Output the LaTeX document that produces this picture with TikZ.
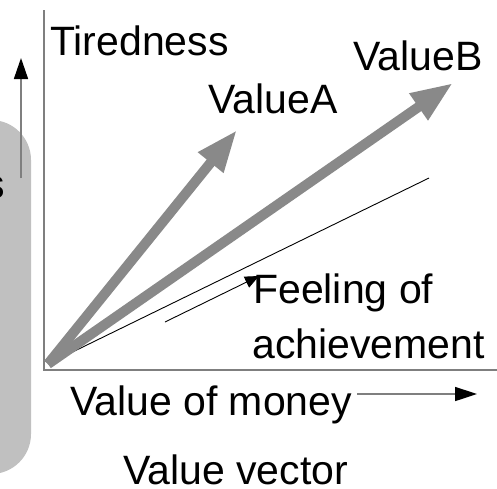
\documentclass[tikz,border=0pt]{standalone}
\usepackage{fontspec}
\setmainfont{Liberation Sans}
\usetikzlibrary{arrows.meta}
\definecolor{boxgray}{HTML}{C0C0C0}
\definecolor{vecgray}{HTML}{898989}
\definecolor{axisgray}{HTML}{7F7F7F}
\tikzset{
  lbl/.style={anchor=base west, inner sep=0pt, font=\fontsize{41}{48}\selectfont},
  axis/.style={draw=axisgray, line width=1.6pt},
  vec/.style={draw=vecgray, line width=10pt, -{Triangle[length=42pt,width=30pt]}},
  thinline/.style={draw=black, line width=0.9pt},
}
\begin{document}
\begin{tikzpicture}[x=1pt,y=-1pt]
\useasboundingbox (0,0) rectangle (497,488);
% gray box at left
\fill[boxgray, rounded corners=40pt] (-60,120) rectangle (31,474);
\node[lbl, anchor=base east] (s) at (5,198) {s};
% small up arrow
\coordinate (ua0) at (21,178);
\coordinate (ua1) at (21,58);
\draw[draw=axisgray, line width=1.6pt, -{Triangle[length=21pt,width=14pt,color=black]}] (ua0) -- (ua1);
% axes
\coordinate (ytop) at (44,10);
\coordinate (O) at (44,370);
\coordinate (xend) at (497,370);
\draw[axis] (ytop) -- (O) -- (xend);
% thin line
\coordinate (org) at (48,364);
\coordinate (thinend) at (429,178);
\draw[thinline] (org) -- (thinend);
% small feeling arrow
\coordinate (fa0) at (165,322);
\coordinate (fa1) at (259,276);
\draw[thinline, -{Triangle[length=14pt,width=12pt]}] (fa0) -- (fa1);
% value vectors
\coordinate (tipA) at (237,130);
\coordinate (tipB) at (453,83);
\draw[vec] (org) -- (tipA);
\draw[vec] (org) -- (tipB);
% labels
\node[lbl] (tired) at (50,55) {Tiredness};
\node[lbl] (va) at (208,113) {ValueA};
\node[lbl] (vb) at (353,70) {ValueB};
\node[lbl] (feel) at (253,303) {Feeling of};
\node[lbl] (ach) at (252,358) {achievement};
\node[lbl] (money) at (70,415) {Value of money};
\node[lbl] (vvec) at (123,484) {Value vector};
% right arrow
\coordinate (ra0) at (357,394);
\coordinate (ra1) at (477,394);
\draw[draw=axisgray, line width=1.6pt, -{Triangle[length=22pt,width=14pt,color=black]}] (ra0) -- (ra1);
\end{tikzpicture}
\end{document}
